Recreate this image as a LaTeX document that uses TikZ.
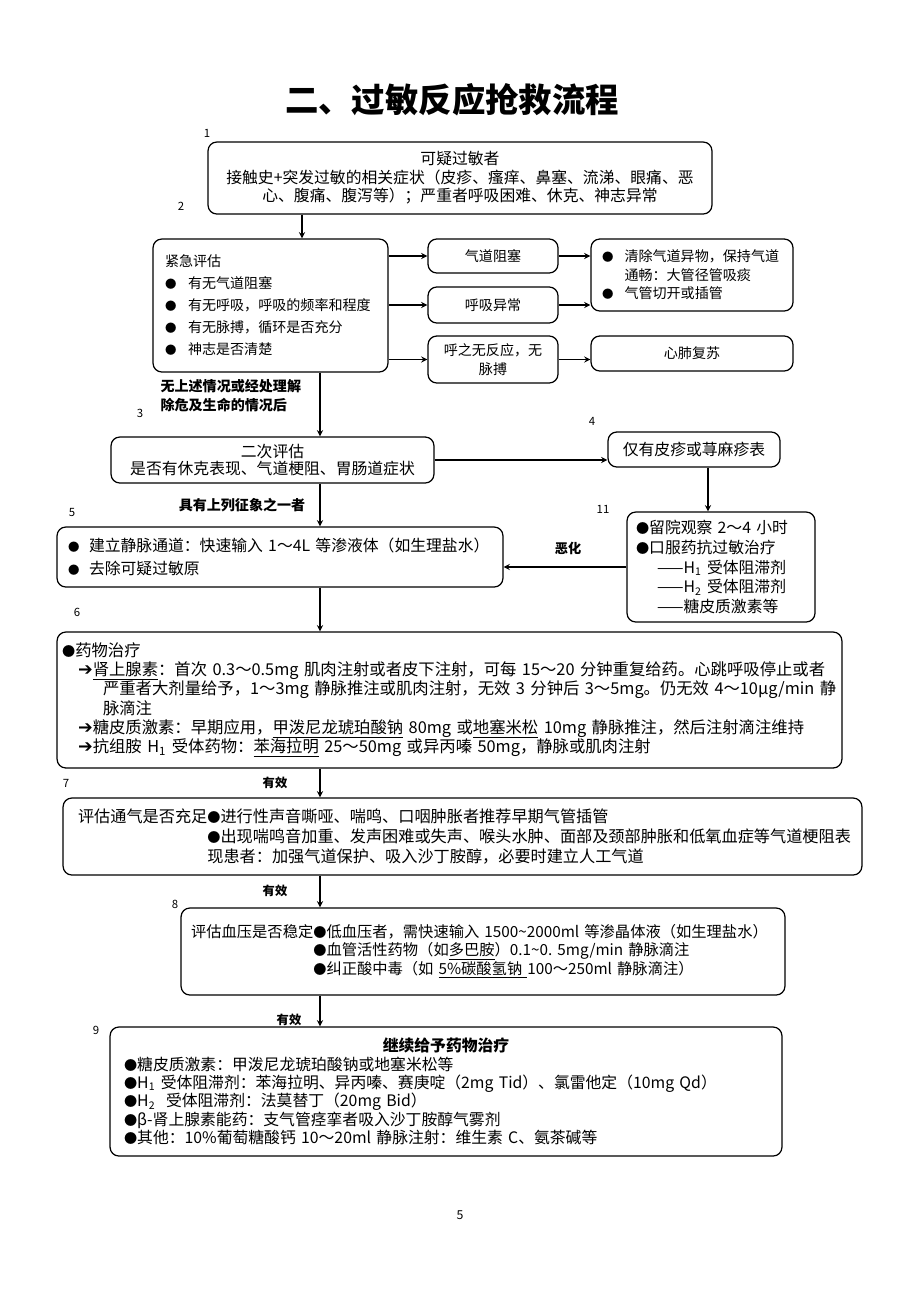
\documentclass[tikz,border=0pt]{standalone}
\usepackage{fontspec}
\setmainfont{Noto Sans CJK SC}
\newfontfamily\arrowfont{DejaVu Sans}
\usetikzlibrary{arrows}
\usetikzlibrary{positioning}

\newcommand{\sz}[2]{\fontsize{#1}{#2}\selectfont}
\newcommand{\listdot}[1]{\makebox[#1][l]{\sz{6.5}{6.5}●}}
\newcommand{\dotmark}{{\sz{7.5}{7.5}●}}
\newcommand{\tipmark}{{\arrowfont\sz{10}{10}➔}}

\begin{document}
\begin{tikzpicture}[
        > = stealth, % arrow head style
        x = 0.02cm, y = -0.02cm, % one unit is one pixel of the page
        semithick % line style
    ]

    \tikzstyle{flowbox}=[
        draw = black,
        line width = 0.7pt,
        rounded corners = 5pt,
        align = center
    ]
    \tikzstyle{listbox}=[flowbox, align = left]
    \tikzstyle{tag}=[font = \sz{6.5}{8}, inner sep = 0pt]
    \tikzstyle{cond}=[font = \bfseries\sz{7.5}{9}, inner sep = 0pt]

    \useasboundingbox (0,0) rectangle (920,1302);

    \node[font = \bfseries\sz{19}{22}] (T) at (452,100) {二、过敏反应抢救流程};

    % step numbers
    \node[tag] (N1) at (207,133) {1};
    \node[tag] (N2) at (181,206) {2};
    \node[tag] (N3) at (140,413) {3};
    \node[tag] (N4) at (592,421) {4};
    \node[tag] (N5) at (72,512) {5};
    \node[tag] (N11) at (603,509) {11};
    \node[tag] (N6) at (77,612) {6};
    \node[tag] (N7) at (66,783) {7};
    \node[tag] (N8) at (175,904) {8};
    \node[tag] (N9) at (96,1030) {9};
    \node[tag, font = \sz{7}{8}] (P) at (460,1215) {5};

    % main column
    \node[flowbox, minimum width = 10.08cm, minimum height = 1.44cm, font = \sz{9}{10.5}] (B1) at (460,178)
        {可疑过敏者\\接触史+突发过敏的相关症状（皮疹、瘙痒、鼻塞、流涕、眼痛、恶\\心、腹痛、腹泻等）；严重者呼吸困难、休克、神志异常};

    \node[listbox, text width = 4.22cm, inner xsep = 0.24cm, minimum height = 2.66cm, font = \sz{8}{12.5}] (B2) at (270.5,305.5)
        {紧急评估\\
         \listdot{0.46cm}有无气道阻塞\\
         \listdot{0.46cm}有无呼吸，呼吸的频率和程度\\
         \listdot{0.46cm}有无脉搏，循环是否充分\\
         \listdot{0.46cm}神志是否清楚};

    \node[cond, align = left, anchor = west, font = \bfseries\sz{8}{10.8}] (L1) at (160,395.5)
        {无上述情况或经处理解\\除危及生命的情况后};

    \node[flowbox, minimum width = 2.6cm, minimum height = 0.68cm, font = \sz{8}{10}] (A1) at (493,256) {气道阻塞};
    \node[flowbox, minimum width = 2.6cm, minimum height = 0.72cm, font = \sz{8}{10}] (A2) at (493,305) {呼吸异常};
    \node[flowbox, minimum width = 2.6cm, minimum height = 0.94cm, font = \sz{8}{10.8}] (A3) at (493,359.5) {呼之无反应，无\\脉搏};

    \node[listbox, text width = 3.6cm, inner xsep = 0.22cm, minimum height = 1.44cm, font = \sz{8}{10.5}] (C1) at (692,275)
        {\listdot{0.45cm}清除气道异物，保持气道\\
         \hspace*{0.45cm}通畅：大管径管吸痰\\
         \listdot{0.45cm}气管切开或插管};
    \node[flowbox, minimum width = 4.04cm, minimum height = 0.7cm, font = \sz{8}{10}] (C2) at (692,353.5) {心肺复苏};

    \node[flowbox, minimum width = 6.46cm, minimum height = 0.92cm, font = \sz{9}{9.8}] (B3) at (272.5,460)
        {二次评估\\是否有休克表现、气道梗阻、胃肠道症状};
    \node[flowbox, minimum width = 3.44cm, minimum height = 0.7cm, font = \sz{9}{10}] (B4) at (694,449.5) {仅有皮疹或荨麻疹表};

    \node[cond, font = \bfseries\sz{8}{9}] (L2) at (242,505) {具有上列征象之一者};

    \node[listbox, text width = 8.48cm, inner xsep = 0.22cm, minimum height = 1.2cm, font = \sz{9}{13}] (B5) at (280,557)
        {\listdot{0.42cm}建立静脉通道：快速输入 1～4L 等渗液体（如生理盐水）\\
         \listdot{0.42cm}去除可疑过敏原};

    \node[listbox, text width = 3.4cm, inner xsep = 0.18cm, minimum height = 2.2cm, font = \sz{9}{11.3}] (B11) at (721,567)
        {\dotmark 留院观察 2～4 小时\\
         \dotmark 口服药抗过敏治疗\\
         \hspace*{0.42cm}——H\textsubscript{1} 受体阻滞剂\\
         \hspace*{0.42cm}——H\textsubscript{2} 受体阻滞剂\\
         \hspace*{0.42cm}——糖皮质激素等};

    \node[cond] (L3) at (568,548) {恶化};

    \node[listbox, text width = 15.5cm, inner xsep = 0.1cm, minimum height = 2.72cm, font = \sz{9.3}{11}] (B6) at (449.5,700)
        {\dotmark 药物治疗\\
         \hspace*{0.32cm}\tipmark\underline{肾上腺素}：首次~0.3～0.5mg~肌肉注射或者皮下注射，可每~15～20~分钟重复给药。心跳呼吸停止或者\\
         \hspace*{0.82cm}严重者大剂量给予，1～3mg~静脉推注或肌肉注射，无效~3~分钟后~3～5mg。仍无效~4～10μg/min~静\\
         \hspace*{0.82cm}脉滴注\\
         \hspace*{0.32cm}\tipmark 糖皮质激素：早期应用，\underline{甲泼尼龙琥珀酸钠}~80mg~或\underline{地塞米松}~10mg~静脉推注，然后注射滴注维持\\
         \hspace*{0.32cm}\tipmark 抗组胺~H\textsubscript{1}~受体药物：\underline{苯海拉明}~25～50mg~或异丙嗪~50mg，静脉或肌肉注射};

    \node[listbox, text width = 15.38cm, inner xsep = 0.3cm, minimum height = 1.54cm, font = \sz{9.2}{11.3}] (B7) at (462.5,836.5)
        {评估通气是否充足\dotmark 进行性声音嘶哑、喘鸣、口咽肿胀者推荐早期气管插管\\
         \phantom{评估通气是否充足}\dotmark 出现喘鸣音加重、发声困难或失声、喉头水肿、面部及颈部肿胀和低氧血症等气道梗阻表\\
         \phantom{评估通气是否充足}现患者：加强气道保护、吸入沙丁胺醇，必要时建立人工气道};

    \node[listbox, text width = 11.68cm, inner xsep = 0.2cm, minimum height = 1.74cm, font = \sz{8.7}{10.5}] (B8) at (483,951.5)
        {评估血压是否稳定\dotmark 低血压者，需快速输入~1500\textasciitilde 2000ml~等渗晶体液（如生理盐水）\\
         \phantom{评估血压是否稳定}\dotmark 血管活性药物（如\underline{多巴胺}）0.1\textasciitilde 0.~5mg/min~静脉滴注\\
         \phantom{评估血压是否稳定}\dotmark 纠正酸中毒（如~\underline{5\%碳酸氢钠~}100～250ml~静脉滴注）};

    \node[listbox, text width = 12.88cm, inner xsep = 0.28cm, minimum height = 2.58cm, font = \sz{9}{10.5}] (B9) at (446,1091.5)
        {\makebox[\hsize]{\bfseries 继续给予药物治疗}\\
         \dotmark 糖皮质激素：甲泼尼龙琥珀酸钠或地塞米松等\\
         \dotmark H\textsubscript{1} 受体阻滞剂：苯海拉明、异丙嗪、赛庚啶（2mg Tid）、氯雷他定（10mg Qd）\\
         \dotmark H\textsubscript{2}\ \ 受体阻滞剂：法莫替丁（20mg Bid）\\
         \dotmark β-肾上腺素能药：支气管痉挛者吸入沙丁胺醇气雾剂\\
         \dotmark 其他：10\%葡萄糖酸钙 10～20ml 静脉注射：维生素 C、氨茶碱等};

    \node[cond, font = \bfseries\sz{7}{8}] (E1) at (275,783) {有效};
    \node[cond, font = \bfseries\sz{7}{8}] (E2) at (275,891) {有效};
    \node[cond, font = \bfseries\sz{7}{8}] (E3) at (289,1020) {有效};

    % connectors
    \coordinate (M0) at (302,0);
    \coordinate (M) at (320,0);
    \coordinate (R) at (708,0);

    \draw[->] (B1.south -| M0) -- (B2.north -| M0);
    \draw[->] (B2.south -| M) -- (B3.north -| M);
    \draw[->] (B3.south -| M) -- (B5.north -| M);
    \draw[->] (B5.south -| M) -- (B6.north -| M);
    \draw[->] (B6.south -| M) -- (B7.north -| M);
    \draw[->] (B7.south -| M) -- (B8.north -| M);
    \draw[->] (B8.south -| M) -- (B9.north -| M);

    \draw[->] (A1 -| B2.east) -- (A1.west);
    \draw[->] (A2 -| B2.east) -- (A2.west);
    \draw[->] (A3 -| B2.east) -- (A3.west);
    \draw[->] (A1.east) -- (A1.east -| C1.west);
    \draw[->] (A2.east) -- (A2.east -| C1.west);
    \draw[->] (A3.east) -- (A3.east -| C2.west);

    \draw[->] (B3.east) -- (B3.east -| B4.west);
    \draw[->] (B4.south -| R) -- (B11.north -| R);
    \draw[->] (B11.west) -- (B11.west -| B5.east);

\end{tikzpicture}
\end{document}
